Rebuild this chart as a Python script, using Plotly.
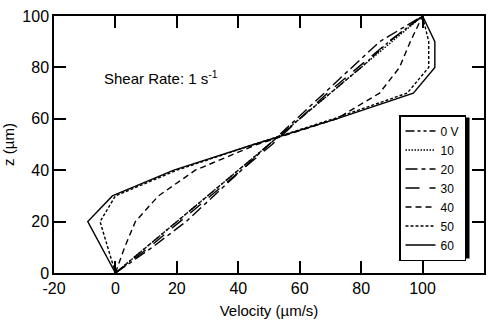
import plotly.graph_objects as go

z = [0, 10, 20, 30, 40, 50, 60, 70, 80, 90, 100]
v_0V = [0, 10, 20, 30, 40, 50, 60, 70, 80, 89, 100]
v_10 = [0, 10, 20, 30, 40, 50, 60, 70, 80, 90, 100]
v_20 = [0, 12, 23, 32, 41, 50, 59, 68, 77, 86, 100]
v_30 = [0, 11, 21, 31, 41, 51, 60, 69, 79, 89, 100]
v_40 = [0, 3, 6.5, 14, 26, 46, 72, 86, 92.5, 96, 100]
v_50 = [0, -2.5, -5, 0, 20, 45, 71, 95, 102, 102, 100]
v_60 = [0, -4.5, -9, -1, 19, 45, 72, 97, 104, 104, 100]

names = ["0 V", "10", "20", "30", "40", "50", "60"]
series = [v_0V, v_10, v_20, v_30, v_40, v_50, v_60]
dashes = ["9px,3px,3px,3px,3px,3px", "1.5px,1.5px", "12px,4px,4px,4px", "14px,10px",
          "6px,4px", "3px,2px", "solid"]

x_ticks = [-20, 0, 20, 40, 60, 80, 100, 120]
x_ticktext = ["-20", "0", "20", "40", "60", "80", "100", "120"]
y_ticks = [0, 20, 40, 60, 80, 100]
y_ticktext = ["0", "20", "40", "60", "80", "100"]

fig = go.Figure()
for n, s, d in zip(names, series, dashes):
    fig.add_trace(go.Scatter(x=s, y=z, mode="lines", name=n,
                             line=dict(color="black", width=1.4, dash=d)))

font = "Liberation Sans, Arial, sans-serif"
axis_common = dict(showline=True, linecolor="black", linewidth=1.5, mirror="ticks",
                   ticks="inside", ticklen=12, tickwidth=1.5, tickcolor="black",
                   showgrid=False, zeroline=False, automargin=False,
                   tickfont=dict(family=font, size=16, color="black"))

# legend box placement (pixels) and drop shadow derived from it
W, H, L, T = 496, 327, 54, 16
PW, PH = W - L - 12, H - T - 54
leg_left, leg_top, leg_w, leg_h, sh = 399, 115, 68, 141, 2.5

fig.update_layout(
    width=W, height=H,
    margin=dict(l=L, r=12, t=T, b=54),
    paper_bgcolor="white", plot_bgcolor="white",
    font=dict(family=font, color="black"),
    xaxis=dict(range=[-20, 120], tickmode="array", tickvals=x_ticks, ticktext=x_ticktext,
               title=dict(text="Velocity (µm/s)", font=dict(family=font, size=15, color="black"), standoff=10),
               **axis_common),
    yaxis=dict(range=[0, 100], tickmode="array", tickvals=y_ticks, ticktext=y_ticktext,
               title=dict(text="z (µm)", font=dict(family=font, size=15, color="black"), standoff=6),
               **axis_common),
    legend=dict(x=(leg_left - L) / PW, y=1 - (leg_top - T) / PH, xanchor="left", yanchor="top",
                bgcolor="white", bordercolor="black", borderwidth=1.5,
                font=dict(family=font, size=12, color="black"),
                tracegroupgap=0, itemwidth=30),
    shapes=[dict(type="rect", xref="paper", yref="paper", layer="above",
                 x0=(leg_left + sh - L) / PW, x1=(leg_left + leg_w + sh - L) / PW,
                 y0=1 - (leg_top + leg_h + sh - T) / PH, y1=1 - (leg_top + sh - T) / PH,
                 fillcolor="black", line=dict(width=0))],
    annotations=[dict(x=-4.5, y=76, xref="x", yref="y", xanchor="left", yanchor="middle",
                      text="Shear Rate: 1 s<sup>-1</sup>", showarrow=False,
                      font=dict(family=font, size=15, color="black"))],
)

fig.write_html("out.html")
